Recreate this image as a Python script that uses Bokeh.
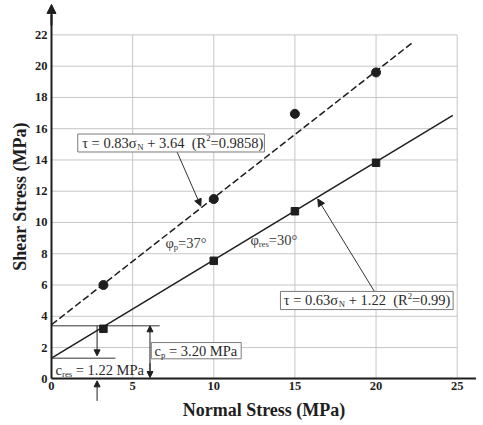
from bokeh.plotting import figure
from bokeh.models import Range1d, FixedTicker, Label, Arrow, NormalHead, BoxAnnotation
from bokeh.embed import file_html
from bokeh.resources import INLINE

# ---- data ----
x_ticks = [0, 5, 10, 15, 20, 25]
y_ticks = [0, 2, 4, 6, 8, 10, 12, 14, 16, 18, 20, 22]

sigma_peak = [3.2, 10, 15, 20]
tau_peak = [6.0, 11.5, 16.95, 19.6]
sigma_res = [3.2, 10, 15, 20]
tau_res = [3.2, 7.55, 10.72, 13.82]

peak_fit_sigma = [0, 22.24]
peak_fit_tau = [3.46, 21.5]
res_fit_sigma = [0, 24.73]
res_fit_tau = [1.32, 16.85]

c_peak_level = 3.39
c_peak_line_sigma = [0, 6.67]
c_res_level = 1.32
c_res_line_sigma = [0, 3.94]

FONT = "Liberation Serif"
INK = "#1e1e1e"
TXT = "#2a2a2a"

X_MIN, X_MAX = -3.142, 26.19
Y_MIN, Y_MAX = -2.73, 24.2

p = figure(width=476, height=421,
           x_range=Range1d(X_MIN, X_MAX), y_range=Range1d(Y_MIN, Y_MAX),
           output_backend="svg", toolbar_location=None,
           min_border_left=0, min_border_right=0,
           min_border_top=0, min_border_bottom=0,
           background_fill_color="white", border_fill_color="white")
p.grid.visible = False
p.outline_line_color = None

for ax, ticks in ((p.xaxis[0], x_ticks), (p.yaxis[0], y_ticks)):
    ax.fixed_location = 0
    ax.ticker = FixedTicker(ticks=ticks)
    ax.axis_line_width = 2
    ax.axis_line_color = INK
    ax.major_tick_line_color = None
    ax.minor_tick_line_color = None
    ax.major_tick_out = 0
    ax.major_tick_in = 0
    ax.minor_tick_out = 0
    ax.minor_tick_in = 0
    ax.major_label_text_font = FONT
    ax.major_label_text_font_style = "bold"
    ax.major_label_text_font_size = "12.5px"
    ax.major_label_text_color = INK
    ax.axis_label_text_font = FONT
    ax.axis_label_text_font_style = "bold"
    ax.axis_label_text_font_size = "18px"
    ax.axis_label_text_color = INK

p.xaxis.bounds = (0, X_MAX)
p.yaxis.bounds = (0, 23.3)
p.xaxis.major_label_standoff = 3
p.xaxis.axis_label_standoff = 7
p.yaxis.major_label_standoff = 4
p.yaxis.axis_label_standoff = 2

p.xaxis.axis_label = "Normal Stress (MPa)"
p.yaxis.axis_label = "Shear Stress (MPa)"

# grid (limited to the tick extent)
p.segment(x0=x_ticks, y0=[y_ticks[0]] * len(x_ticks), x1=x_ticks, y1=[y_ticks[-1]] * len(x_ticks),
          line_color="#c6c6c6", line_width=1)
p.segment(x0=[x_ticks[0]] * len(y_ticks), y0=y_ticks, x1=[x_ticks[-1]] * len(y_ticks), y1=y_ticks,
          line_color="#c6c6c6", line_width=1)

# y-axis arrow head
p.add_layout(Arrow(x_start=0, y_start=22.6, x_end=0, y_end=23.95, line_width=2, line_color=INK,
                   end=NormalHead(size=9, fill_color=INK, line_color=INK, line_width=1)))

# fit lines
p.line(peak_fit_sigma, peak_fit_tau, line_color=INK, line_width=1.5, line_dash="7 3")
p.line(res_fit_sigma, res_fit_tau, line_color=INK, line_width=1.5)

# cohesion guide lines
p.line(c_peak_line_sigma, [c_peak_level] * 2, line_color="#333333", line_width=1)
p.line(c_res_line_sigma, [c_res_level] * 2, line_color="#333333", line_width=1)

# points
p.scatter(sigma_peak, tau_peak, marker="circle", size=9, color=INK)
p.scatter(sigma_res, tau_res, marker="square", size=7.5, color=INK)


def head(s=6):
    return NormalHead(size=s, fill_color=INK, line_color=INK, line_width=1)


# cohesion arrows
p.add_layout(Arrow(x_start=6.07, y_start=0.5, x_end=6.07, y_end=c_peak_level, end=head(),
                   line_color=INK, line_width=1))
p.add_layout(Arrow(x_start=6.07, y_start=1.0, x_end=6.07, y_end=0.08, end=head(),
                   line_color=INK, line_width=1))
p.add_layout(Arrow(x_start=2.81, y_start=c_peak_level, x_end=2.81, y_end=1.47, end=head(),
                   line_color=INK, line_width=1))
p.add_layout(Arrow(x_start=2.81, y_start=-1.41, x_end=2.81, y_end=-0.13, end=head(),
                   line_color=INK, line_width=1))

# leader arrows
p.add_layout(Arrow(x_start=7.74, y_start=14.51, x_end=9.2, y_end=11.05, end=head(7),
                   line_color="#333333", line_width=1))
p.add_layout(Arrow(x_start=19.9, y_start=5.59, x_end=16.41, y_end=11.5, end=head(7),
                   line_color="#333333", line_width=1))

# boxes
for (l, r, b, t) in ((1.62, 13.12, 14.51, 15.66), (14.11, 24.75, 4.43, 5.59), (6.15, 11.69, 1.28, 2.32)):
    p.add_layout(BoxAnnotation(left=l, right=r, bottom=b, top=t, fill_color="white", fill_alpha=1,
                               line_color="#7a7a7a", line_width=1, line_alpha=1))

W = {" ": .25, "(": .333, ")": .333, "+": .564, ".": .25, "=": .564, "M": .889, "P": .556,
     "R": .667, "N": .722, "a": .444, "c": .444, "e": .444, "p": .5, "r": .333, "s": .389,
     "°": .4, "τ": .44, "σ": .55, "φ": .57}


def tw(s, fs):
    return sum(W.get(ch, 0.5) for ch in s) * fs


def rich(x, y, pieces, size=14.5, color=TXT):
    off = 0.0
    for txt, kind in pieces:
        if kind == "n":
            fs, dy = size, 0
        elif kind == "sub":
            fs, dy = size * 0.6, -4
        else:
            fs, dy = size * 0.6, 4.5
        lead = len(txt) - len(txt.lstrip(" "))
        off += tw(" " * lead, fs)
        core = txt.strip(" ")
        p.add_layout(Label(x=x, y=y, x_offset=off, y_offset=dy, text=core, text_font=FONT,
                           text_font_size=f"{fs:.1f}px", text_color=color,
                           text_baseline="middle", text_align="left"))
        off += tw(core, fs)


rich(1.89, 15.09, [("τ = 0.83σ", "n"), ("N", "sub"), (" + 3.64", "n"), ("  (R", "n"),
                   ("2", "sup"), ("=0.9858)", "n")])
rich(14.31, 5.01, [("τ = 0.63σ", "n"), ("N", "sub"), (" + 1.22", "n"), ("  (R", "n"),
                   ("2", "sup"), ("=0.99)", "n")])
rich(6.35, 1.81, [("c", "n"), ("p", "sub"), (" = 3.20 MPa", "n")])
rich(0.25, 0.55, [("c", "n"), ("res", "sub"), (" = 1.22 MPa", "n")])
rich(7.02, 8.72, [("φ", "n"), ("p", "sub"), ("=37°", "n")], color="#3a3a3a")
rich(12.26, 8.91, [("φ", "n"), ("res", "sub"), ("=30°", "n")], color="#3a3a3a")

open("out.html", "w").write(file_html(p, INLINE))
